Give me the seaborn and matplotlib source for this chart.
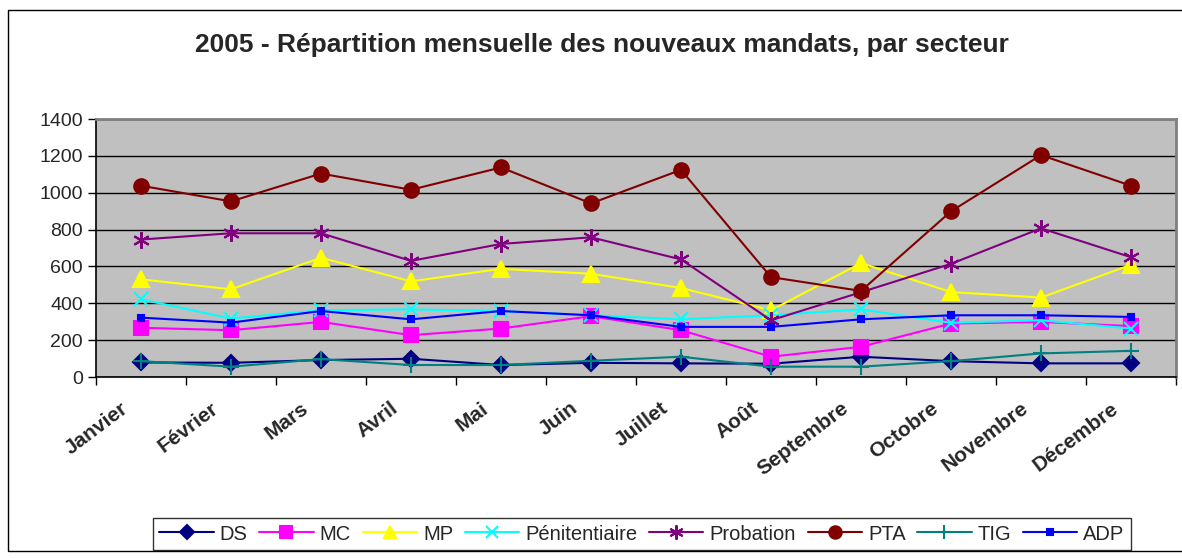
import matplotlib
matplotlib.use("Agg")
import matplotlib.pyplot as plt
import matplotlib.patches as mpatches
from matplotlib.transforms import ScaledTranslation
import numpy as np
import seaborn as sns

mois = ['Janvier', 'Février', 'Mars', 'Avril', 'Mai', 'Juin', 'Juillet',
        'Août', 'Septembre', 'Octobre', 'Novembre', 'Décembre']

ds = [79, 77, 92, 99, 65, 77, 74, 72, 110, 86, 74, 74]
mc = [267, 254, 299, 227, 263, 330, 254, 110, 164, 290, 299, 276]
mp = [530, 476, 647, 519, 587, 560, 483, 362, 618, 461, 431, 609]
penitentiaire = [422, 317, 362, 367, 358, 335, 313, 335, 367, 294, 308, 263]
probation = [746, 780, 780, 630, 722, 758, 638, 308, 460, 614, 807, 650]
pta = [1038, 953, 1104, 1016, 1137, 942, 1124, 542, 467, 899, 1204, 1038]
tig = [86, 56, 97, 65, 65, 88, 110, 56, 56, 86, 128, 142]
adp = [322, 295, 358, 313, 358, 335, 272, 272, 313, 335, 335, 326]

series = [
    ('DS', ds, '#000080', 'D', 8),
    ('MC', mc, '#FF00FF', 's', 9.5),
    ('MP', mp, '#FFFF00', '^', 11),
    ('Pénitentiaire', penitentiaire, '#00FFFF', 'x', 10),
    ('Probation', probation, '#800080', (6, 2, 0), 12),
    ('PTA', pta, '#800000', 'o', 10.5),
    ('TIG', tig, '#008080', '+', 12),
    ('ADP', adp, '#0000FF', 's', 5),
]

sns.set_style('white')
plt.rcParams['font.family'] = ['Liberation Sans', 'DejaVu Sans']

fig = plt.figure(figsize=(11.82, 5.59), dpi=100)
ax = fig.add_axes([96 / 1182, 1 - 377 / 559, 1080 / 1182, 258 / 559])
ax.set_facecolor('#C0C0C0')

for name, values, color, marker, size in series:
    sns.lineplot(x=mois, y=values, ax=ax, color=color, marker=marker,
                 markersize=size, markeredgecolor=color, markerfacecolor=color,
                 markeredgewidth=1.5, linewidth=1.5, label=name, sort=False)

ax.set_xlim(-0.5, 11.5)
ax.set_ylim(0, 1400)
ax.set_yticks(np.arange(0, 1401, 200))
ax.yaxis.grid(True, color='black', linewidth=1)
ax.set_axisbelow(True)

# ticks between categories, labels centred on them
ax.set_xticks(np.arange(-0.5, 12, 1))
ax.set_xticklabels([])
ax.set_xticks(np.arange(12), minor=True)
ax.set_xticklabels(mois, minor=True, rotation=37, ha='right', va='center',
                   rotation_mode='anchor', fontsize=15, fontweight='bold')
ax.tick_params(axis='x', which='major', length=6, width=1, color='black',
               direction='out', bottom=True)
ax.tick_params(axis='x', which='minor', length=0, pad=21)
ax.tick_params(axis='y', length=6, width=1, color='black', direction='out',
               left=True, labelsize=14)
shift = ScaledTranslation(-0.15, 0, fig.dpi_scale_trans)
for lab in ax.get_xticklabels(minor=True):
    lab.set_transform(lab.get_transform() + shift)
ax.set_xlabel('')
ax.set_ylabel('')

for side in ['left', 'bottom']:
    ax.spines[side].set_color('black')
    ax.spines[side].set_linewidth(1.2)
for side in ['top', 'right']:
    ax.spines[side].set_color('#808080')
    ax.spines[side].set_linewidth(2)

ax.legend_.remove()
handles, labels = ax.get_legend_handles_labels()
leg = fig.legend(handles, labels, loc='center', ncol=8,
                 bbox_to_anchor=(642 / 1182, 1 - 534 / 559),
                 frameon=True, fancybox=False, edgecolor='black',
                 fontsize=14.5, handlelength=2.7, handletextpad=0.3,
                 columnspacing=0.58, borderpad=0.3, markerscale=0.85)
leg.get_frame().set_linewidth(1)

fig.text(602 / 1182, 1 - 45 / 559,
         '2005 - Répartition mensuelle des nouveaux mandats, par secteur',
         ha='center', va='center', fontsize=19, fontweight='bold')

fig.patches.append(mpatches.Rectangle((8 / 1182, 8 / 559), 1180 / 1182, 541 / 559,
                                      transform=fig.transFigure, fill=False,
                                      edgecolor='black', linewidth=1))

fig.savefig('out.png', dpi=100)
